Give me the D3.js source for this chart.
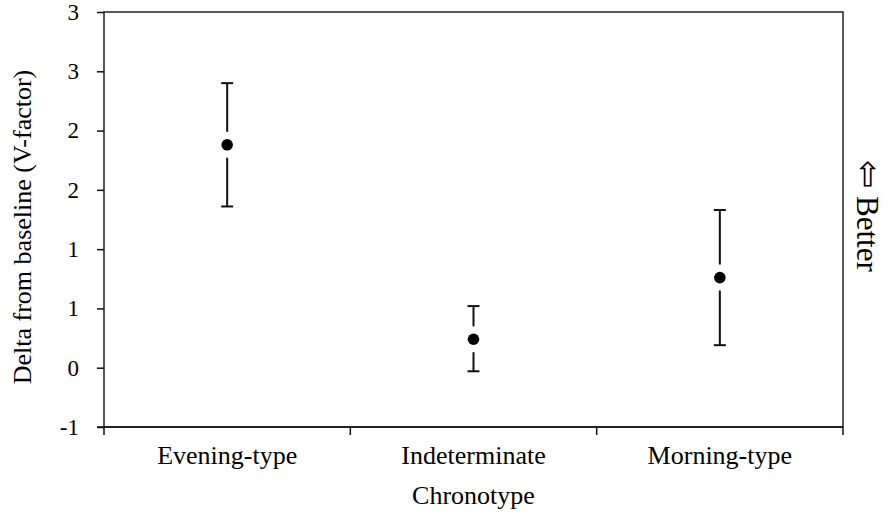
<!DOCTYPE html>
<html>
<head>
<meta charset="utf-8">
<script src="https://cdn.jsdelivr.net/npm/d3@7/dist/d3.min.js"></script>
<style>
  body { margin: 0; background: #fff; }
  text { font-family: "Liberation Serif", "Times New Roman", serif; fill: #000; }
</style>
</head>
<body>
<svg width="886" height="518"></svg>
<script>
// chart values
var categories = ['Evening-type', 'Indeterminate', 'Morning-type'];
var means = [1.88, 0.24, 0.76];
var errLow = [1.36, -0.03, 0.19];
var errHigh = [2.40, 0.52, 1.33];
var yTicks = [-0.5, 0, 0.5, 1, 1.5, 2, 2.5, 3];

var svg = d3.select('svg');
var padding = { t: 12, r: 43, b: 91, l: 104 };
var chartWidth = +svg.attr('width') - padding.l - padding.r;
var chartHeight = +svg.attr('height') - padding.t - padding.b;

var xScale = d3.scaleBand()
  .domain(categories)
  .range([0, chartWidth]);
var yScale = d3.scaleLinear()
  .domain([-0.5, 3])
  .range([chartHeight, 0]);

var chartG = svg.append('g')
  .attr('transform', 'translate(' + [padding.l, padding.t] + ')');

// frame
chartG.append('rect')
  .attr('width', chartWidth)
  .attr('height', chartHeight)
  .style('fill', 'none')
  .style('stroke', '#222')
  .style('stroke-width', 1.5);

// excel style rounding of the half ticks
var fmt = d => String(Math.sign(d) * Math.round(Math.abs(d)));

var yAxisG = chartG.append('g')
  .attr('class', 'axis')
  .call(d3.axisLeft(yScale).tickValues(yTicks).tickFormat(fmt).tickSize(7).tickSizeOuter(0).tickPadding(18));

// boundary ticks between categories
var bounds = categories.map(c => xScale(c)).concat([chartWidth]);
var xAxisG = chartG.append('g')
  .attr('class', 'axis')
  .attr('transform', 'translate(0,' + chartHeight + ')');
xAxisG.append('path')
  .attr('d', 'M' + (-7) + ',0H' + chartWidth);
xAxisG.selectAll('.btick')
  .data(bounds)
  .enter().append('line')
  .attr('class', 'btick')
  .attr('x1', d => d).attr('x2', d => d)
  .attr('y1', 0).attr('y2', 8);
xAxisG.selectAll('.clabel')
  .data(categories)
  .enter().append('text')
  .attr('class', 'clabel')
  .attr('x', d => xScale(d) + xScale.bandwidth() / 2)
  .attr('y', 37)
  .attr('text-anchor', 'middle')
  .style('font-size', '26px')
  .text(d => d);

svg.selectAll('.axis path, .axis line')
  .style('stroke', '#111')
  .style('stroke-width', 1.5);
yAxisG.select('.domain').remove();
yAxisG.selectAll('text').style('font-size', '23px').style('font-family', '"Liberation Serif", serif');

// error bars
var pts = categories.map((c, i) => ({ c: c, m: means[i], lo: errLow[i], hi: errHigh[i] }));
var capW = 6;
var bars = chartG.selectAll('.bar')
  .data(pts)
  .enter().append('g')
  .attr('class', 'bar')
  .attr('transform', d => 'translate(' + (xScale(d.c) + xScale.bandwidth() / 2) + ',0)');
bars.append('line')
  .attr('y1', d => yScale(d.lo)).attr('y2', d => yScale(d.hi));
bars.append('line')
  .attr('x1', -capW).attr('x2', capW)
  .attr('y1', d => yScale(d.hi)).attr('y2', d => yScale(d.hi));
bars.append('line')
  .attr('x1', -capW).attr('x2', capW)
  .attr('y1', d => yScale(d.lo)).attr('y2', d => yScale(d.lo));
bars.selectAll('line')
  .style('stroke', '#111')
  .style('stroke-width', 2);
// white halo then marker
bars.append('circle')
  .attr('cy', d => yScale(d.m))
  .attr('r', 13)
  .style('fill', '#fff');
bars.append('circle')
  .attr('cy', d => yScale(d.m))
  .attr('r', 5.8)
  .style('fill', '#000');

// axis titles
svg.append('text')
  .attr('transform', 'translate(' + [31, 227] + ') rotate(-90)')
  .attr('text-anchor', 'middle')
  .style('font-size', '26px')
  .text('Delta from baseline (V-factor)');
svg.append('text')
  .attr('x', padding.l + chartWidth / 2)
  .attr('y', 504)
  .attr('text-anchor', 'middle')
  .style('font-size', '26px')
  .text('Chronotype');
var better = svg.append('text')
  .attr('transform', 'translate(' + [857, 216] + ') rotate(90)')
  .attr('text-anchor', 'middle')
  .style('font-size', '31px');
better.append('tspan').style('font-size', '34px').text('\u21E6');
better.append('tspan').text(' Better');
</script>
</body>
</html>
